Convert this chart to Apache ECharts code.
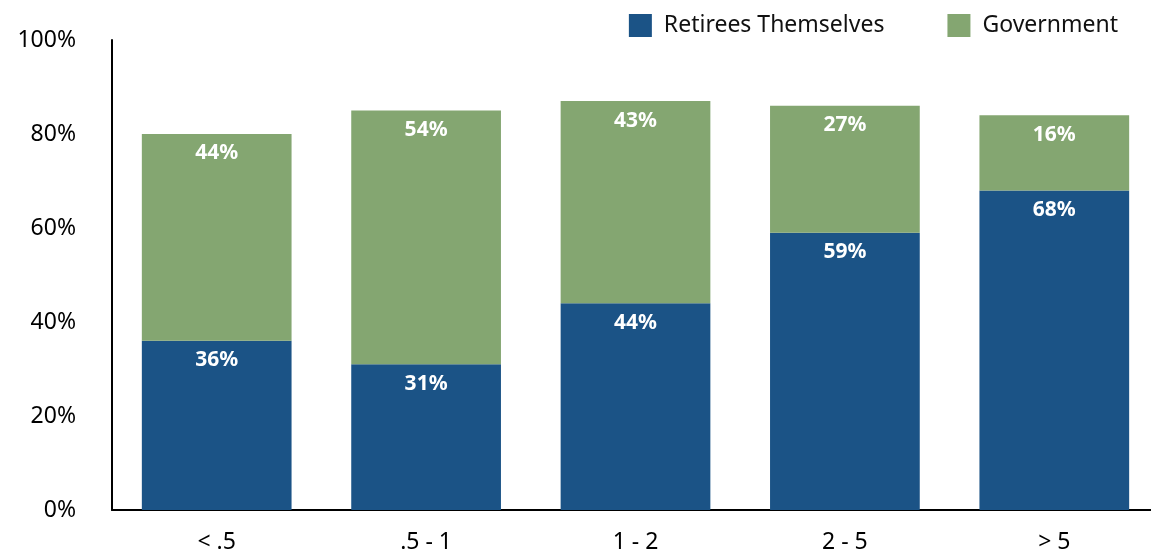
<!DOCTYPE html>
<html>
<head>
<meta charset="utf-8">
<script src="https://cdn.jsdelivr.net/npm/echarts@6/dist/echarts.min.js"></script>
<style>
  html, body { margin: 0; padding: 0; background: #fff; }
  #chart { width: 1151px; height: 554px; }
</style>
</head>
<body>
<div id="chart"></div>
<script>
var categories = ['< .5', '.5 - 1', '1 - 2', '2 - 5', '> 5']
var retirees = [36, 31, 44, 59, 68]
var government = [44, 54, 43, 27, 16]
var yTicks = [0, 20, 40, 60, 80, 100]

var font = 'Noto Sans'
var chart = echarts.init(document.getElementById('chart'))

var label = {
  show: true,
  position: 'insideTop',
  distance: 9,
  color: '#fff',
  fontFamily: font,
  fontWeight: 'bold',
  fontSize: 21,
  formatter: '{c}%'
}

chart.setOption({
  animation: false,
  legend: {
    top: 9,
    right: 28,
    itemWidth: 23,
    itemHeight: 23,
    itemGap: 63,
    icon: 'rect',
    textStyle: { fontFamily: font, fontSize: 23, color: '#111', padding: [0, 0, 0, 7] },
    data: ['Retirees Themselves', 'Government']
  },
  grid: { left: 112, top: 40, bottom: 44, width: 1047, outerBoundsMode: 'none', containLabel: false },
  xAxis: {
    type: 'category',
    data: categories,
    axisTick: { show: false },
    axisLine: { lineStyle: { color: '#000', width: 2 } },
    axisLabel: { color: '#000', fontFamily: font, fontSize: 23, margin: 21 }
  },
  yAxis: {
    type: 'value',
    min: yTicks[0],
    max: yTicks[yTicks.length - 1],
    interval: 20,
    splitLine: { show: false },
    axisTick: { show: false },
    axisLine: { show: true, lineStyle: { color: '#000', width: 2 } },
    axisLabel: { color: '#000', fontFamily: font, fontSize: 23, margin: 36, formatter: '{value}%' }
  },
  series: [
    {
      name: 'Retirees Themselves',
      type: 'bar',
      stack: 'total',
      barWidth: '71.5%',
      itemStyle: { color: '#1B5386' },
      label: label,
      data: retirees
    },
    {
      name: 'Government',
      type: 'bar',
      stack: 'total',
      barWidth: '71.5%',
      itemStyle: { color: '#84A671' },
      label: label,
      data: government
    }
  ]
})
</script>
</body>
</html>
